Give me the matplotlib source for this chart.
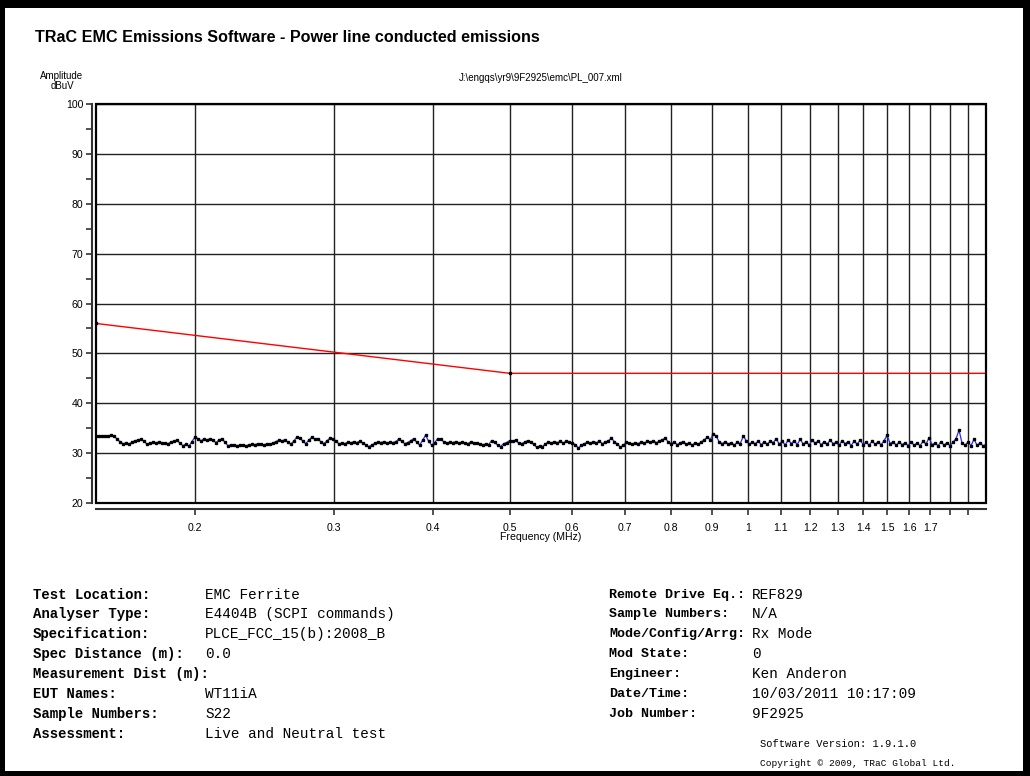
import matplotlib
matplotlib.use("Agg")
import matplotlib.pyplot as plt
import matplotlib.ticker as mticker
from matplotlib.patches import Rectangle
import numpy as np

level = [
    33.4, 33.4, 33.5, 33.4, 33.4, 33.6, 33.5, 32.8, 32.3, 31.9,
    32.0, 31.8, 32.2, 32.5, 32.6, 32.8, 32.4, 31.8, 32.0, 32.2,
    32.1, 32.2, 32.0, 32.1, 31.9, 32.2, 32.4, 32.6, 32.0, 31.5,
    31.8, 31.4, 32.3, 33.2, 32.9, 32.5, 32.8, 32.6, 32.9, 32.7,
    32.1, 32.6, 32.9, 32.2, 31.5, 31.6, 31.7, 31.5, 31.6, 31.7,
    31.5, 31.6, 31.8, 31.7, 31.9, 31.8, 31.6, 31.9, 31.8, 32.0,
    32.3, 32.6, 32.4, 32.7, 32.2, 31.8, 32.4, 33.2, 33.1, 32.4,
    31.9, 32.6, 33.2, 32.8, 32.9, 32.3, 31.9, 32.4, 33.0, 32.9,
    32.4, 31.9, 32.0, 31.9, 32.2, 32.0, 32.3, 32.1, 32.4, 32.0,
    31.7, 31.3, 31.6, 32.0, 32.2, 32.1, 32.3, 32.0, 32.2, 32.1,
    32.3, 32.8, 32.4, 31.9, 32.1, 32.5, 32.9, 32.2, 31.6, 32.6,
    33.6, 32.4, 31.6, 32.1, 32.9, 32.8, 32.3, 32.0, 32.2, 32.1,
    32.3, 32.0, 32.2, 32.1, 31.9, 32.2, 32.0, 32.1, 31.9, 31.7,
    31.8, 31.7, 32.5, 32.2, 31.6, 31.3, 31.9, 32.1, 32.5, 32.4,
    32.6, 32.0, 31.9, 32.2, 32.5, 32.2, 31.8, 31.2, 31.4, 31.3,
    31.9, 32.2, 32.0, 32.3, 32.1, 32.4, 32.0, 32.5, 32.2, 32.0,
    31.7, 31.0, 31.6, 31.9, 32.2, 32.0, 32.3, 32.1, 32.4, 31.9,
    32.2, 32.5, 33.0, 32.3, 31.8, 31.2, 31.6, 32.2, 32.0, 31.8,
    32.1, 31.9, 32.3, 32.0, 32.4, 32.2, 32.5, 32.1, 32.4, 32.7,
    33.0, 32.2, 31.9, 32.2, 31.7, 32.1, 32.3, 31.8, 32.0, 31.6,
    32.1, 31.8, 32.3, 32.6, 33.3, 32.7, 33.9, 33.4, 32.2, 31.9,
    32.3, 31.8, 32.1, 31.6, 32.2, 31.9, 33.4, 32.5, 31.8, 32.2,
    31.9, 32.4, 31.7, 32.3, 31.8, 32.4, 32.1, 32.9, 31.8, 32.4,
    31.6, 32.7, 31.9, 32.5, 31.7, 32.8, 31.8, 32.3, 31.6, 32.6,
    32.0, 32.4, 31.7, 32.3, 31.8, 32.6, 31.9, 32.2, 31.6, 32.5,
    31.9, 32.3, 31.5, 32.4, 31.8, 32.6, 31.7, 32.2, 31.6, 32.4,
    31.8, 32.2, 31.7, 32.5, 33.6, 31.9, 32.3, 31.6, 32.2, 31.7,
    32.1, 31.5, 32.3, 31.6, 32.0, 31.5, 32.4, 31.8, 33.1, 31.7,
    32.0, 31.5, 32.3, 31.6, 32.1, 31.5, 32.2, 32.9, 34.6, 32.0,
    31.6, 32.2, 31.5, 32.8, 31.6, 32.0, 31.5, 31.7,
]
f_start, f_stop = 0.15, 2.0
freq = np.geomspace(f_start, f_stop, len(level))

# limit line
limit_freq = [0.15, 0.5, 2.0]
limit_level = [56, 46, 46]

x_ticks = [0.2, 0.3, 0.4, 0.5, 0.6, 0.7, 0.8, 0.9, 1.0, 1.1, 1.2, 1.3,
           1.4, 1.5, 1.6, 1.7, 1.8, 1.9]
x_labels = ["0.2", "0.3", "0.4", "0.5", "0.6", "0.7", "0.8", "0.9", "1",
            "1.1", "1.2", "1.3", "1.4", "1.5", "1.6", "1.7", "", ""]

left_info = [
    ("Test Location:", "EMC Ferrite"),
    ("Analyser Type:", "E4404B (SCPI commands)"),
    ("Specification:", "PLCE_FCC_15(b):2008_B"),
    ("Spec Distance (m):", "0.0"),
    ("Measurement Dist (m):", ""),
    ("EUT Names:", "WT11iA"),
    ("Sample Numbers:", "S22"),
    ("Assessment:", "Live and Neutral test"),
]
right_info = [
    ("Remote Drive Eq.:", "REF829"),
    ("Sample Numbers:", "N/A"),
    ("Mode/Config/Arrg:", "Rx Mode"),
    ("Mod State:", "0"),
    ("Engineer:", "Ken Anderon"),
    ("Date/Time:", "10/03/2011 10:17:09"),
    ("Job Number:", "9F2925"),
]

plt.rcParams['font.family'] = ['Liberation Sans', 'DejaVu Sans']

W, H = 1030, 776
fig = plt.figure(figsize=(W / 100, H / 100), dpi=100)
fig.patch.set_facecolor('white')

# black page frame
for (x0, y0, w, h) in [(0, 0, 5, H), (0, H - 8, W, 8), (W - 7, 0, 7, H), (0, 0, W, 5)]:
    fig.patches.append(Rectangle((x0 / W, y0 / H), w / W, h / H, transform=fig.transFigure,
                                 facecolor='black', edgecolor='none'))

fig.text(35 / W, 1 - 38 / H, "TRaC EMC Emissions Software - Power line conducted emissions",
         fontsize=11.6, fontweight='bold', va='center', ha='left')
fig.text(62 / W, 1 - 81 / H, "Amplitude\ndBuV", fontsize=7, ha='center', va='center',
         linespacing=1.0)
fig.text(541 / W, 1 - 78 / H, r"J:\engqs\yr9\9F2925\emc\PL_007.xml", fontsize=7,
         ha='center', va='center')

ax = fig.add_axes([96 / W, 1 - 503 / H, 890 / W, 399 / H])
ax.set_xscale('log')
ax.set_xlim(f_start, f_stop)
ax.set_ylim(20, 100)

ax.plot(limit_freq, limit_level, color='red', lw=1.0, zorder=3)
ax.plot(limit_freq[:2], limit_level[:2], ls='none', marker='s', ms=2, color='black', zorder=4)
ax.plot(freq, level, color='#2a2aff', lw=0.9, zorder=4)
ax.plot(freq, level, ls='none', marker='s', ms=1.8, color='black', zorder=5)

ax.xaxis.set_major_locator(mticker.FixedLocator(x_ticks))
ax.xaxis.set_major_formatter(mticker.FixedFormatter(x_labels))
ax.xaxis.set_minor_locator(mticker.NullLocator())
ax.set_yticks(np.arange(20, 101, 10))
ax.set_yticks(np.arange(25, 100, 10), minor=True)

ax.grid(True, which='major', color='#222222', lw=1.0)
ax.set_axisbelow(True)

ax.spines['left'].set_position(('outward', 3))
ax.spines['bottom'].set_position(('outward', 4.5))
ax.spines['top'].set_visible(False)
ax.spines['right'].set_visible(False)
for s in ['left', 'bottom']:
    ax.spines[s].set_linewidth(1.5)
    ax.spines[s].set_color('#333333')
ax.add_patch(Rectangle((0, 0), 1, 1, transform=ax.transAxes, fill=False,
                       edgecolor='black', lw=1.6, clip_on=False, zorder=6))

ax.tick_params(axis='both', which='both', labelsize=7.6, length=4, width=1.2, color='#333333')
ax.tick_params(axis='x', pad=6)
ax.tick_params(axis='y', pad=2)
ax.set_xlabel("Frequency (MHz)", fontsize=7.6, labelpad=-1)

# info tables
mono = 'Liberation Mono'
row_y = [595, 614, 634, 654, 674, 694, 714, 734]
for (lab, val), y in zip(left_info, row_y):
    fig.text(33 / W, 1 - y / H, lab, family=mono, fontweight='bold', fontsize=10.1, va='center')
    fig.text(205 / W, 1 - y / H, val, family=mono, fontsize=10.4, va='center')
for (lab, val), y in zip(right_info, row_y):
    fig.text(609 / W, 1 - y / H, lab, family=mono, fontweight='bold', fontsize=9.6, va='center')
    fig.text(752 / W, 1 - y / H, val, family=mono, fontsize=10.4, va='center')

fig.text(760 / W, 1 - 744 / H, "Software Version: 1.9.1.0", family=mono, fontsize=7.5, va='center')
fig.text(760 / W, 1 - 763 / H, "Copyright \u00a9 2009, TRaC Global Ltd.", family=mono,
         fontsize=6.8, va='center')

fig.savefig("out.png", dpi=100)
